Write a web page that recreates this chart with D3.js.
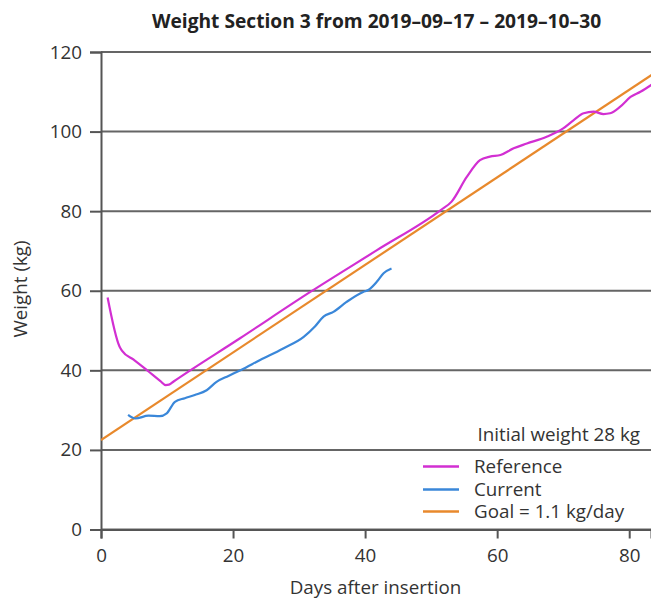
<!DOCTYPE html>
<html>
<head>
<meta charset="utf-8">
<script src="https://cdn.jsdelivr.net/npm/d3@7"></script>
<style>
  html, body { margin: 0; padding: 0; background: #fff; }
  svg { display: block; font-family: "Open Sans", "Noto Sans", sans-serif; }
</style>
</head>
<body>
<svg id="chart" width="651" height="600"></svg>
<script>
// ---- data ----
const titleText = "Weight Section 3 from 2019–09–17 – 2019–10–30";
const xTicks = [0, 20, 40, 60, 80];
const yTicks = [0, 20, 40, 60, 80, 100, 120];

const refDays = [1, 2.8, 3.2, 5, 7, 9, 9.8, 10.3, 11, 21, 31.7, 41.8, 51.4, 53.1, 55.4, 57.4, 58.9, 60.5, 62.5, 64.5, 67.5, 70, 71.6, 73.1, 74.6, 76.1, 77.1, 78.6, 80.2, 81.7, 83.5];
const refWeights = [58.3, 46, 44.9, 42.6, 40, 37.3, 36.3, 36.4, 37.2, 48, 59.7, 70.2, 80.2, 82.4, 88.6, 92.8, 93.7, 94.1, 95.8, 97.0, 98.7, 100.8, 102.9, 104.6, 105, 104.4, 104.6, 106.2, 108.7, 110, 111.9];

const curDays = [4.1, 5.2, 7.2, 8.9, 9.95, 11.2, 12.7, 14.2, 16, 17.5, 19.3, 21.2, 24.1, 27.6, 30.7, 32.4, 33.7, 35.2, 37.2, 39.7, 40.5, 41.8, 42.8, 44];
const curWeights = [28.8, 27.9, 28.6, 28.5, 29.2, 32.1, 33.0, 33.8, 35.0, 37.1, 38.6, 40.1, 42.6, 45.5, 48.4, 51.0, 53.5, 54.7, 57.2, 59.7, 60.2, 62.3, 64.4, 65.6];

const goalDays = [0, 84];
const goalWeights = [22.5, 114.9];

const legendLabels = ["Reference", "Current", "Goal = 1.1 kg/day"];
const noteText = "Initial weight 28 kg";
const xLabel = "Days after insertion";
const yLabel = "Weight (kg)";

// ---- layout ----
const svg = d3.select("#chart");
const W = 651, H = 600;
const mLeft = 101, mRight = 651, mTop = 52, mBottom = 529.5;
const colors = ["#d22fd2", "#3a87d9", "#e8892c"];
const textColor = "#333";
const gridColor = "#555";
const fs = 18.8;

const x = d3.scaleLinear().domain([0, 83.3]).range([mLeft, mRight]);
const y = d3.scaleLinear().domain([0, 120]).range([mBottom, mTop]);

// gridlines
svg.append("g").selectAll("line").data(yTicks).join("line")
  .attr("x1", mLeft).attr("x2", W)
  .attr("y1", d => y(d)).attr("y2", d => y(d))
  .attr("stroke", gridColor).attr("stroke-width", 2).attr("opacity", 0.9);

// y axis
const yAxis = svg.append("g").attr("transform", `translate(${mLeft},0)`)
  .call(d3.axisLeft(y).tickValues(yTicks).tickSize(11).tickPadding(8));
yAxis.select(".domain").attr("stroke", gridColor).attr("stroke-width", 2);
yAxis.selectAll(".tick line").attr("stroke", gridColor).attr("stroke-width", 2);
yAxis.selectAll("text").attr("font-size", fs).attr("fill", textColor)
  .attr("font-family", "'Open Sans', sans-serif");

// x axis
const xAxis = svg.append("g").attr("transform", `translate(0,${mBottom})`)
  .call(d3.axisBottom(x).tickValues(xTicks).tickSize(9).tickPadding(10));
xAxis.select(".domain").attr("stroke", gridColor).attr("stroke-width", 2);
xAxis.selectAll(".tick line").attr("stroke", gridColor).attr("stroke-width", 2);
xAxis.selectAll("text").attr("font-size", fs).attr("fill", textColor)
  .attr("font-family", "'Open Sans', sans-serif");

// clip
svg.append("clipPath").attr("id", "clip").append("rect")
  .attr("x", mLeft).attr("y", 0).attr("width", W - mLeft).attr("height", mBottom);

const line = d3.line().x(d => x(d[0])).y(d => y(d[1]));
const series = [
  { data: d3.zip(goalDays, goalWeights), curve: d3.curveLinear, color: colors[2] },
  { data: d3.zip(refDays, refWeights), curve: d3.curveMonotoneX, color: colors[0] },
  { data: d3.zip(curDays, curWeights), curve: d3.curveMonotoneX, color: colors[1] }
];
const lines = svg.append("g").attr("clip-path", "url(#clip)");
series.forEach(s => {
  lines.append("path").datum(s.data)
    .attr("d", line.curve(s.curve))
    .attr("fill", "none").attr("stroke", s.color).attr("stroke-width", 2.2)
    .attr("stroke-linejoin", "round");
});

// title
svg.append("text").attr("x", 376.5).attr("y", 28)
  .attr("text-anchor", "middle").attr("font-size", 19.2).attr("font-weight", "bold")
  .attr("fill", "#222").text(titleText);

// axis labels
svg.append("text").attr("x", 375.5).attr("y", 594)
  .attr("text-anchor", "middle").attr("font-size", fs).attr("fill", textColor).text(xLabel);
svg.append("text").attr("transform", "translate(27,289) rotate(-90)")
  .attr("text-anchor", "middle").attr("font-size", fs).attr("fill", textColor).text(yLabel);

// note
svg.append("text").attr("x", 640).attr("y", 441).attr("text-anchor", "end")
  .attr("font-size", fs).attr("fill", textColor).text(noteText);

// legend
const legendY = [466.5, 489.5, 511.5];
const lg = svg.append("g");
legendLabels.forEach((lab, i) => {
  lg.append("line").attr("x1", 423).attr("x2", 459)
    .attr("y1", legendY[i]).attr("y2", legendY[i])
    .attr("stroke", colors[i]).attr("stroke-width", 2.5);
  lg.append("text").attr("x", 474).attr("y", legendY[i] + 6.5)
    .attr("font-size", fs).attr("fill", textColor).text(lab);
});
</script>
</body>
</html>
